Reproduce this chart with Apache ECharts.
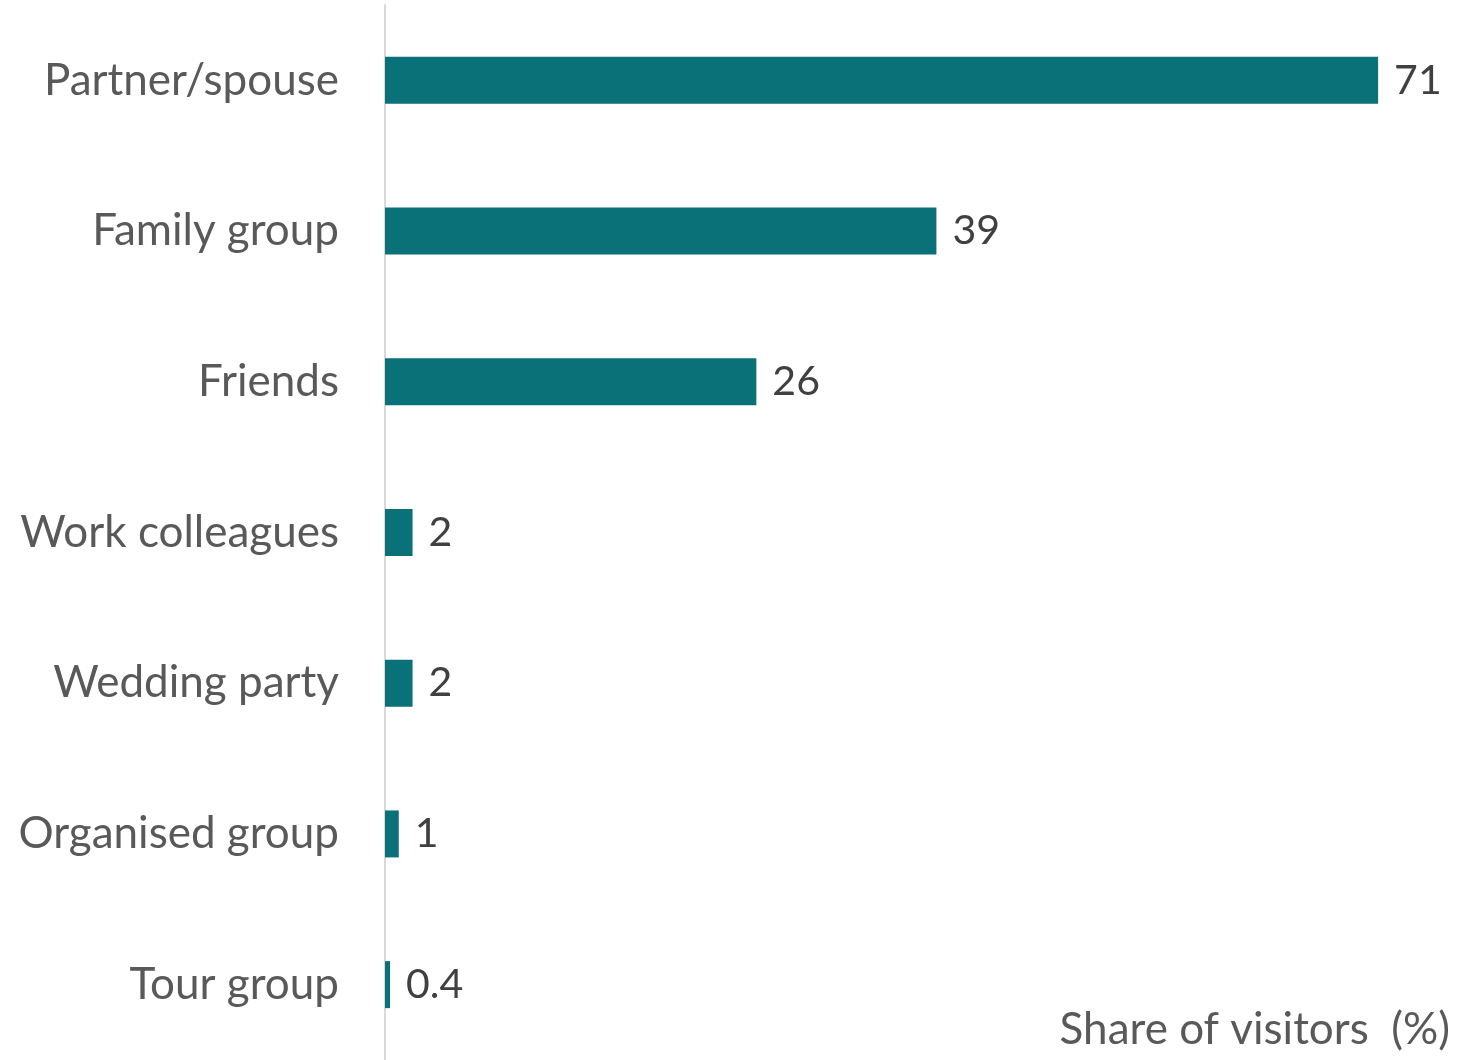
<!DOCTYPE html>
<html>
<head>
<meta charset="utf-8">
<script src="https://cdn.jsdelivr.net/npm/echarts@6/dist/echarts.min.js"></script>
<style>
html,body{margin:0;padding:0;background:#fff;}
#chart{width:1468px;height:1060px;}
</style>
</head>
<body>
<div id="chart"></div>
<script>
const categories = ["Partner/spouse", "Family group", "Friends", "Work colleagues", "Wedding party", "Organised group", "Tour group"];
// labels show the rounded values
const shareValues = [70.6, 39.2, 26.4, 1.96, 1.96, 0.98, 0.36];
const axisTitle = "Share of visitors  (%)";

const FONT = "Lato";
const chart = echarts.init(document.getElementById('chart'), null, {renderer: 'canvas'});
chart.setOption({
  animation: false,
  backgroundColor: '#ffffff',
  grid: {left: 385, right: 28, top: 5, height: 1061, containLabel: false},
  title: {
    text: axisTitle,
    right: 13,
    bottom: 3,
    textStyle: {fontFamily: FONT, fontSize: 44, fontWeight: 'normal', color: '#595959'}
  },
  xAxis: {
    type: 'value', min: 0, max: 75,
    show: false
  },
  yAxis: {
    type: 'category',
    data: categories,
    inverse: true,
    axisLine: {show: true, lineStyle: {color: '#D9D9D9', width: 2}},
    axisTick: {show: false},
    axisLabel: {margin: 46, fontFamily: FONT, fontSize: 44, color: '#595959'}
  },
  series: [{
    type: 'bar',
    data: shareValues,
    barWidth: 47,
    itemStyle: {color: '#0B7179'},
    label: {
      show: true, position: 'right', distance: 16,
      fontFamily: FONT, fontSize: 41, color: '#404040',
      formatter: p => p.value >= 0.5 ? String(Math.round(p.value)) : p.value.toFixed(1)
    }
  }]
});
</script>
</body>
</html>
